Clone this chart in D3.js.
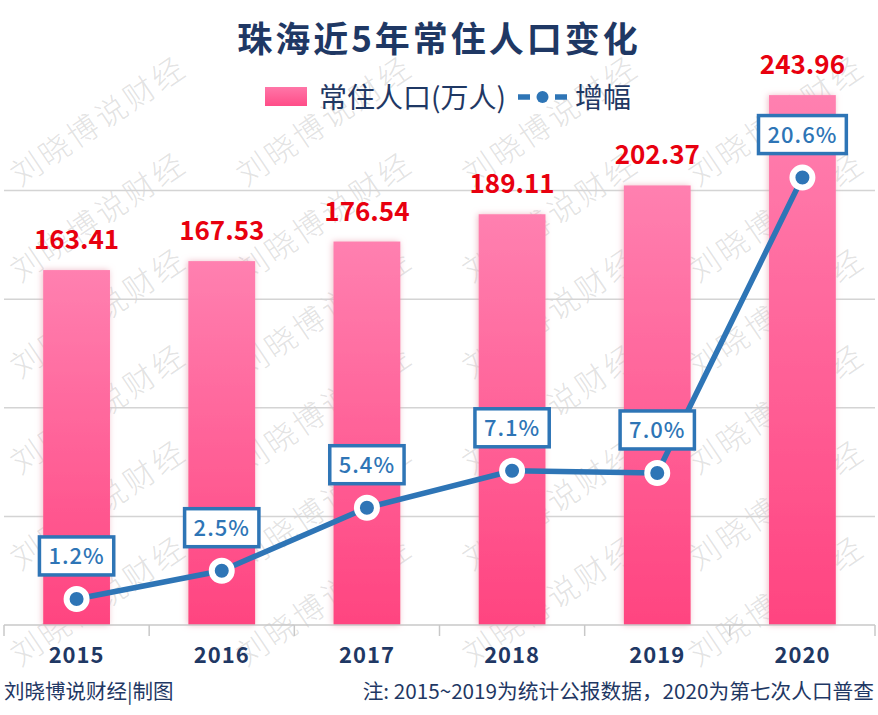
<!DOCTYPE html>
<html><head><meta charset="utf-8">
<script src="https://cdn.jsdelivr.net/npm/d3@7"></script>
<style>
html,body{margin:0;padding:0;background:#fff;}
svg{display:block;}
text{font-family:"Noto Sans CJK SC","Noto Sans",sans-serif;}
</style></head>
<body>
<svg id="chart" width="878" height="715"></svg>
<script>
const title = "珠海近5年常住人口变化";
const years = ["2015","2016","2017","2018","2019","2020"];
const population = [163.41,167.53,176.54,189.11,202.37,243.96];
const growth = [1.2,2.5,5.4,7.1,7.0,20.6];
const gridTicks = [0,50,100,150,200];
const legendBar = "常住人口(万人)";
const legendLine = "增幅";
const footerLeft = "刘晓博说财经|制图";
const footerRight = "注: 2015~2019为统计公报数据，2020为第七次人口普查";
const watermark = "刘晓博说财经";

const W = 878, H = 715;
const svg = d3.select("#chart");
const navy = "#1f3864", blue = "#2e75b6", red = "#e8000f";

const defs = svg.append("defs");
const g1 = defs.append("linearGradient").attr("id","barGrad").attr("x1",0).attr("y1",0).attr("x2",0).attr("y2",1);
g1.append("stop").attr("offset","0%").attr("stop-color","#ff80b0");
g1.append("stop").attr("offset","100%").attr("stop-color","#ff4480");
const g2 = defs.append("linearGradient").attr("id","legGrad").attr("x1",0).attr("y1",0).attr("x2",0).attr("y2",1);
g2.append("stop").attr("offset","0%").attr("stop-color","#ff76a8");
g2.append("stop").attr("offset","100%").attr("stop-color","#ff4d88");
const f = defs.append("filter").attr("id","glow").attr("x","-30%").attr("y","-10%").attr("width","160%").attr("height","120%");
f.append("feDropShadow").attr("dx",-1).attr("dy",0).attr("stdDeviation",3).attr("flood-color","#e8a0b0").attr("flood-opacity",0.7);

const x = d3.scaleBand().domain(years).range([4, 875]).paddingInner(0.54).paddingOuter(0.27);
const step = x.step();
const yL = d3.scaleLinear().domain([0, 250]).range([625, 82]);
const yR = d3.scaleLinear().domain([0, 25]).range([625, 82]);
const cx = d => x(d) + x.bandwidth()/2;

// watermark
const wm = svg.append("g").attr("class","watermark");
for (let i = 0; i < 4; i++) {
  for (let j = 0; j < 6; j++) {
    const px = 20 + 226*i, py = 187 + 96*j;
    wm.append("text").attr("transform",`translate(${px},${py}) rotate(-34)`)
      .attr("font-size",31).attr("font-weight",300).attr("letter-spacing",3)
      .attr("fill","#888").attr("fill-opacity",0.24)
      .text(watermark);
  }
}

// grid
svg.append("g").selectAll("line").data(gridTicks.filter(t=>t>0)).join("line")
  .attr("x1",4).attr("x2",875).attr("y1",d=>yL(d)).attr("y2",d=>yL(d))
  .attr("stroke","#d4d4d4").attr("stroke-width",1.5);

// bars
svg.append("g").selectAll("rect").data(years).join("rect")
  .attr("x",d=>x(d)).attr("width",x.bandwidth())
  .attr("y",(d,i)=>yL(population[i])).attr("height",(d,i)=>yL(0)-yL(population[i]))
  .attr("fill","url(#barGrad)").attr("filter","url(#glow)");

// axis
const axis = d3.axisBottom(x).tickSize(0).tickPadding(24);
const ag = svg.append("g").attr("transform",`translate(0,${yL(0)})`).call(axis);
ag.select(".domain").attr("stroke","#c8c8c8").attr("stroke-width",1.5).attr("d",`M4,0H875`);
ag.selectAll(".tick text").attr("font-size",22).attr("font-weight","bold").attr("fill",navy)
  .attr("letter-spacing",1).attr("dy","0.71em").attr("y",22);
const bounds = d3.range(years.length+1).map(i=>4+i*step);
ag.selectAll(".bound").data(bounds).join("line").attr("class","bound")
  .attr("x1",d=>d).attr("x2",d=>d).attr("y1",0).attr("y2",11)
  .attr("stroke","#c8c8c8").attr("stroke-width",1.5);

// bar value labels
svg.append("g").selectAll("text").data(years).join("text")
  .attr("x",d=>cx(d)).attr("y",(d,i)=>yL(population[i])-21)
  .attr("text-anchor","middle").attr("font-size",26).attr("font-weight","bold").attr("fill",red)
  .text((d,i)=>population[i].toFixed(2));

// line
const line = d3.line().x((d,i)=>cx(years[i])).y(d=>yR(d));
svg.append("path").datum(growth).attr("d",line).attr("fill","none")
  .attr("stroke",blue).attr("stroke-width",5.5).attr("stroke-linejoin","round");

// label boxes
const lb = svg.append("g").selectAll("g").data(growth).join("g")
  .attr("transform",(d,i)=>`translate(${cx(years[i])},${yR(d)-43})`);
lb.append("text").attr("text-anchor","middle").attr("y",8)
  .attr("font-size",22).attr("letter-spacing",1).attr("fill",blue).attr("font-weight",500)
  .text(d=>d.toFixed(1)+"%");
lb.each(function(){
  const gsel = d3.select(this);
  const w = gsel.select("text").node().getComputedTextLength();
  gsel.insert("rect","text").attr("x",-w/2-9).attr("y",-19).attr("width",w+18).attr("height",38)
    .attr("fill","#fff").attr("stroke",blue).attr("stroke-width",3.5);
});

// points
svg.append("g").selectAll("circle").data(growth).join("circle")
  .attr("cx",(d,i)=>cx(years[i])).attr("cy",d=>yR(d)).attr("r",10)
  .attr("fill",blue).attr("stroke","#fff").attr("stroke-width",6);

// title
svg.append("text").attr("x",439).attr("y",52).attr("text-anchor","middle")
  .attr("font-size",35).attr("font-weight","bold").attr("fill",navy).attr("letter-spacing",3)
  .text(title);

// legend
const leg = svg.append("g");
leg.append("rect").attr("x",265).attr("y",87).attr("width",42).attr("height",19).attr("fill","url(#legGrad)");
leg.append("text").attr("x",319).attr("y",108).attr("font-size",28).attr("fill",navy).text(legendBar);
leg.append("line").attr("x1",518).attr("x2",530).attr("y1",97).attr("y2",97)
  .attr("stroke",blue).attr("stroke-width",5.5);
leg.append("line").attr("x1",555).attr("x2",567).attr("y1",97).attr("y2",97)
  .attr("stroke",blue).attr("stroke-width",5.5);
leg.append("circle").attr("cx",542.5).attr("cy",97).attr("r",6).attr("fill",blue);
leg.append("text").attr("x",575).attr("y",108).attr("font-size",28).attr("fill",navy).text(legendLine);

// footer
svg.append("text").attr("x",4).attr("y",699).attr("font-size",20.5).attr("fill",navy).text(footerLeft);
svg.append("text").attr("x",874).attr("y",699).attr("text-anchor","end").attr("font-size",20.7).attr("fill",navy).text(footerRight);
</script>
</body></html>
